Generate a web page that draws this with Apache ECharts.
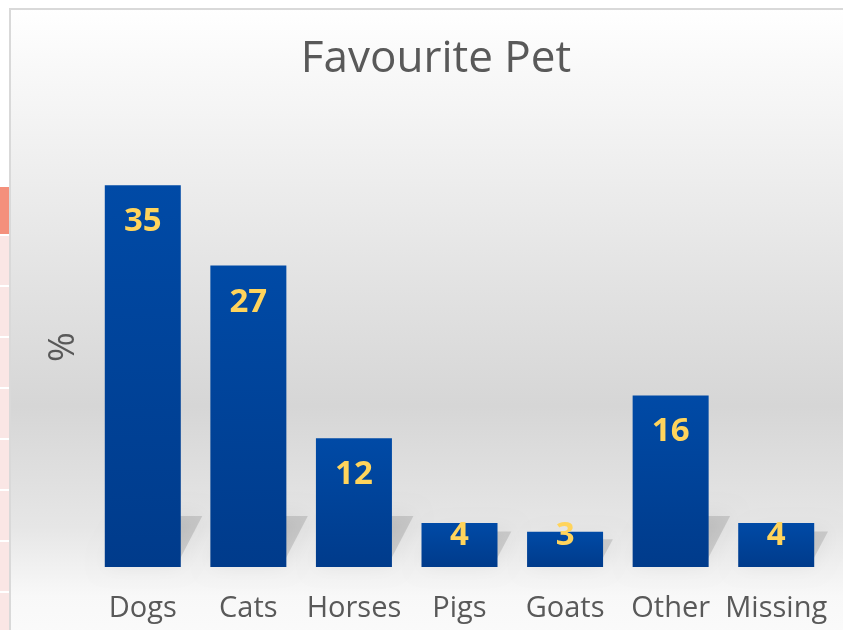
<!DOCTYPE html>
<html><head><meta charset="utf-8">
<script src="https://cdn.jsdelivr.net/npm/echarts@6/dist/echarts.min.js"></script>
<style>html,body{margin:0;padding:0;background:#fff}#c{width:843px;height:630px}</style>
</head><body><div id="c"></div>
<script>
var categories = ['Dogs', 'Cats', 'Horses', 'Pigs', 'Goats', 'Other', 'Missing'];
var values = [34.7, 27.4, 11.7, 4.0, 3.2, 15.6, 4.0];
var titleText = 'Favourite Pet';
var yName = '%';

var FONT = '"Open Sans", Lato, sans-serif';
var chart = echarts.init(document.getElementById('c'), null, {renderer: 'canvas'});

var barData = values.map(function (v) {
  var small = v < 8;
  return {
    value: v,
    label: small ? {position: 'insideBottom', distance: 15} : {position: 'insideTop', distance: 20}
  };
});

var pinkCells = [];
for (var i = 0; i < 8; i++) {
  pinkCells.push({type: 'rect', shape: {x: 0, y: 236 + i * 51, width: 9, height: 49}, style: {fill: '#FAE6E5'}, z: -5});
}

chart.setOption({
  animation: false,
  graphic: [
    {type: 'rect', shape: {x: 10, y: 9, width: 840, height: 630}, z: -10,
     style: {fill: new echarts.graphic.LinearGradient(0, 0, 0, 1, [
       {offset: 0, color: '#ffffff'},
       {offset: 0.12, color: '#f7f7f7'},
       {offset: 0.35, color: '#e8e8e8'},
       {offset: 0.63, color: '#d6d6d6'},
       {offset: 0.82, color: '#e6e6e6'},
       {offset: 0.93, color: '#f8f8f8'},
       {offset: 1, color: '#fbfbfb'}
     ]), stroke: '#d9d9d9', lineWidth: 2}},
    {type: 'rect', shape: {x: 0, y: 187, width: 9, height: 47}, style: {fill: '#F4907C'}, z: -5},
    {type: 'text', x: 436, y: 37, z: 5,
     style: {text: titleText, align: 'center', verticalAlign: 'top', fontFamily: FONT, fontSize: 44, fill: '#595959'}}
  ].concat(pinkCells),
  grid: {left: 90, right: 14, top: 127, bottom: 63},
  xAxis: {
    type: 'category', data: categories,
    axisLine: {show: false}, axisTick: {show: false},
    axisLabel: {fontFamily: FONT, fontSize: 29, color: '#595959', margin: 27, interval: 0}
  },
  yAxis: {
    type: 'value', min: 0, max: 40,
    name: yName, nameLocation: 'middle', nameGap: 8,
    nameTextStyle: {fontFamily: FONT, fontSize: 36, color: '#595959'},
    axisLine: {show: false}, axisTick: {show: false}, axisLabel: {show: false}, splitLine: {show: false}
  },
  series: [
    {
      type: 'custom', z: 1, silent: true,
      data: values.map(function (v, i) { return [i, v]; }),
      renderItem: function (params, api) {
        var base = api.coord([api.value(0), 0]);
        var top = api.coord([api.value(0), api.value(1)]);
        var w = 76;
        var xl = base[0] - w / 2, xr = base[0] + w / 2;
        var h = base[1] - top[1];
        var dy = Math.min(h * 0.9, 55), dx = dy * 0.5;
        return {
          type: 'polygon',
          shape: {points: [[xl, base[1] - 2], [xr - 4, base[1] - 2], [xr + dx - 6, base[1] - dy + 4], [xl + dx, base[1] - dy + 4]]},
          style: {fill: 'rgba(0,0,0,0.12)', shadowBlur: 20, shadowColor: 'rgba(0,0,0,0.5)'}
        };
      }
    },
    {
      type: 'bar', data: barData, barWidth: 76, z: 3,
      itemStyle: {color: new echarts.graphic.LinearGradient(0, 0, 0, 1, [
        {offset: 0, color: '#004AA6'}, {offset: 1, color: '#003B8B'}
      ])},
      label: {
        show: true, fontFamily: FONT, fontSize: 33, fontWeight: 'bold', color: '#FFD45C',
        formatter: function (p) { return Math.round(p.value); }
      }
    }
  ]
});
</script></body></html>
